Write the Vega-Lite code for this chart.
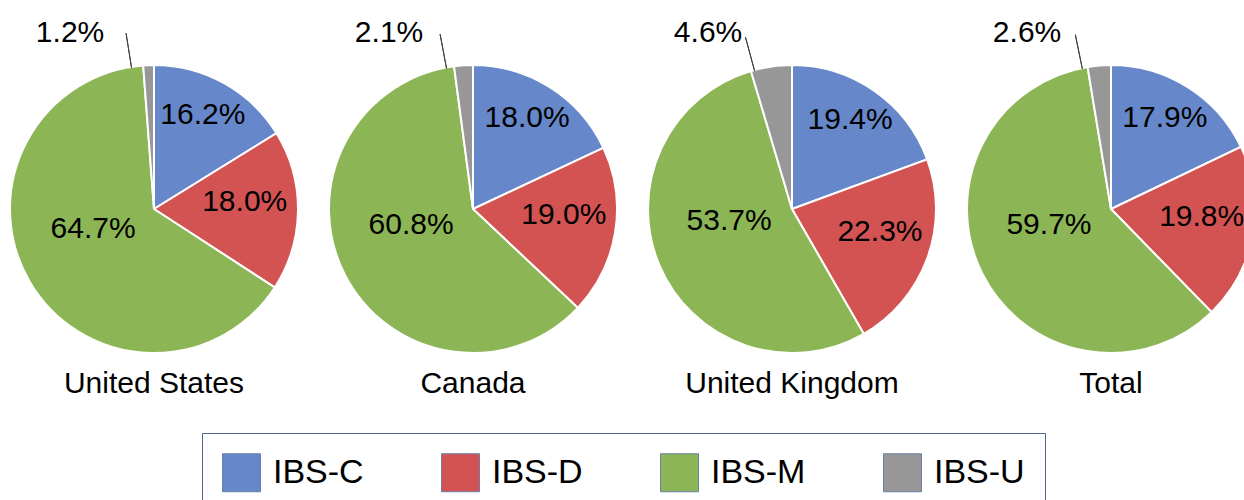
{
  "$schema": "https://vega.github.io/schema/vega-lite/v6.json",
  "padding": {"left": 6, "top": 17, "right": 0, "bottom": 0},
  "bounds": "flush",
  "data": {
    "values": [
      {"country": "United States", "category": "IBS-C", "value": 16.2, "order": 1, "label": "16.2%"},
      {"country": "United States", "category": "IBS-D", "value": 18.0, "order": 2, "label": "18.0%"},
      {"country": "United States", "category": "IBS-M", "value": 64.7, "order": 3, "label": "64.7%"},
      {"country": "United States", "category": "IBS-U", "value": 1.2, "order": 4, "label": "1.2%"},
      {"country": "Canada", "category": "IBS-C", "value": 18.0, "order": 1, "label": "18.0%"},
      {"country": "Canada", "category": "IBS-D", "value": 19.0, "order": 2, "label": "19.0%"},
      {"country": "Canada", "category": "IBS-M", "value": 60.8, "order": 3, "label": "60.8%"},
      {"country": "Canada", "category": "IBS-U", "value": 2.1, "order": 4, "label": "2.1%"},
      {"country": "United Kingdom", "category": "IBS-C", "value": 19.4, "order": 1, "label": "19.4%"},
      {"country": "United Kingdom", "category": "IBS-D", "value": 22.3, "order": 2, "label": "22.3%"},
      {"country": "United Kingdom", "category": "IBS-M", "value": 53.7, "order": 3, "label": "53.7%"},
      {"country": "United Kingdom", "category": "IBS-U", "value": 4.6, "order": 4, "label": "4.6%"},
      {"country": "Total", "category": "IBS-C", "value": 17.9, "order": 1, "label": "17.9%"},
      {"country": "Total", "category": "IBS-D", "value": 19.8, "order": 2, "label": "19.8%"},
      {"country": "Total", "category": "IBS-M", "value": 59.7, "order": 3, "label": "59.7%"},
      {"country": "Total", "category": "IBS-U", "value": 2.6, "order": 4, "label": "2.6%"}
    ]
  },
  "facet": {
    "column": {
      "field": "country",
      "type": "nominal",
      "sort": ["United States", "Canada", "United Kingdom", "Total"],
      "header": {
        "title": null,
        "labelOrient": "bottom",
        "labelFontSize": 30,
        "labelFont": "Liberation Sans",
        "labelColor": "#000000",
        "labelPadding": 16
      }
    }
  },
  "spacing": 31,
  "spec": {
    "width": 288,
    "height": 288,
    "layer": [
      {
        "mark": {"type": "arc", "stroke": "white", "strokeWidth": 2},
        "encoding": {
          "theta": {"field": "value", "type": "quantitative", "stack": "normalize"},
          "order": {"field": "order", "type": "quantitative"},
          "color": {
            "field": "category",
            "type": "nominal",
            "scale": {
              "domain": ["IBS-C", "IBS-D", "IBS-M", "IBS-U"],
              "range": ["#6688ca", "#d35353", "#8cb655", "#979797"]
            },
            "legend": {
              "title": null,
              "orient": "none",
              "legendX": 192,
              "legendY": 368,
              "direction": "horizontal",
              "columns": 4,
              "symbolType": "square",
              "symbolSize": 1444,
              "symbolStrokeColor": "#6a7fa8",
              "symbolStrokeWidth": 1,
              "symbolOpacity": 1,
              "labelFontSize": 34,
              "labelFont": "Liberation Sans",
              "labelColor": "#000000",
              "labelOffset": 12,
              "labelLimit": 0,
              "columnPadding": 75,
              "padding": 20,
              "strokeColor": "#4e6394",
              "fillColor": "#ffffff"
            }
          }
        }
      },
      {
        "transform": [
          {"stack": "value", "groupby": ["country"], "sort": [{"field": "order", "order": "ascending"}], "offset": "normalize", "as": ["s0", "s1"]},
          {"filter": "datum.category === 'IBS-U'"}
        ],
        "mark": {"type": "arc", "radius": 178, "radius2": 143, "padAngle": 1, "thetaOffset": -0.12, "theta2Offset": -0.12, "fill": null, "stroke": "#404040", "strokeWidth": 1},
        "encoding": {
          "theta": {"field": "s0", "type": "quantitative"},
          "theta2": {"field": "s1"}
        }
      },
      {
        "mark": {"type": "text", "radius": 106, "thetaOffset": -0.03, "font": "Liberation Sans", "fontSize": 30, "color": "#000000"},
        "encoding": {
          "theta": {"field": "value", "type": "quantitative", "stack": "normalize"},
          "order": {"field": "order", "type": "quantitative"},
          "detail": {"field": "category", "type": "nominal"},
          "text": {"condition": {"test": "datum.category === 'IBS-C'", "field": "label", "type": "nominal"}, "value": ""}
        }
      },
      {
        "mark": {"type": "text", "radius": 91, "thetaOffset": -0.09, "font": "Liberation Sans", "fontSize": 30, "color": "#000000"},
        "encoding": {
          "theta": {"field": "value", "type": "quantitative", "stack": "normalize"},
          "order": {"field": "order", "type": "quantitative"},
          "detail": {"field": "category", "type": "nominal"},
          "text": {"condition": {"test": "datum.category === 'IBS-D'", "field": "label", "type": "nominal"}, "value": ""}
        }
      },
      {
        "mark": {"type": "text", "radius": 64, "thetaOffset": 0.22, "font": "Liberation Sans", "fontSize": 30, "color": "#000000"},
        "encoding": {
          "theta": {"field": "value", "type": "quantitative", "stack": "normalize"},
          "order": {"field": "order", "type": "quantitative"},
          "detail": {"field": "category", "type": "nominal"},
          "text": {"condition": {"test": "datum.category === 'IBS-M'", "field": "label", "type": "nominal"}, "value": ""}
        }
      },
      {
        "transform": [
          {"stack": "value", "groupby": ["country"], "sort": [{"field": "order", "order": "ascending"}], "offset": "normalize", "as": ["s0", "s1"]},
          {"filter": "datum.category === 'IBS-U'"}
        ],
        "mark": {"type": "text", "radius": 195, "thetaOffset": -0.445, "font": "Liberation Sans", "fontSize": 30, "color": "#000000"},
        "encoding": {
          "theta": {"field": "s1", "type": "quantitative", "stack": null},
          "text": {"field": "label", "type": "nominal"}
        }
      }
    ]
  },
  "config": {
    "view": {"stroke": null},
    "font": "Liberation Sans"
  }
}
